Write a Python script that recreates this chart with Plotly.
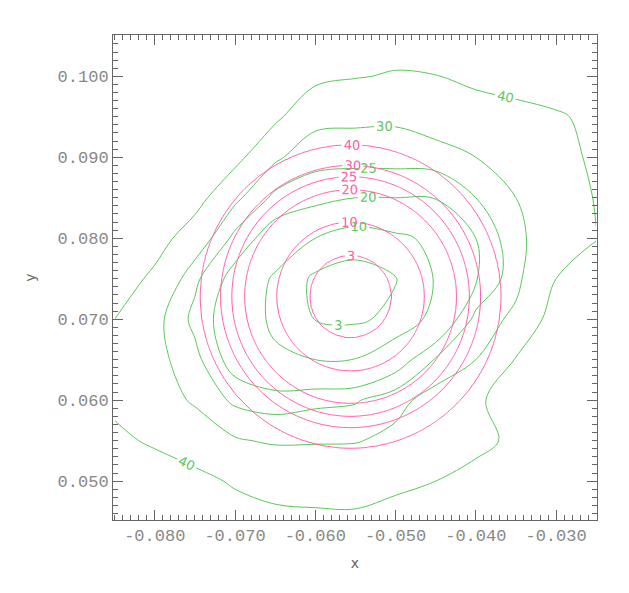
import numpy as np
import plotly.graph_objects as go

# contour levels drawn for both fields
levels = [3, 10, 20, 25, 30, 40]

# magenta field: concentric rings, radius (in x units) read for each level
ring_center_x = -0.0556
ring_center_y = 0.0728
ring_radius = [0.0051, 0.0092, 0.0132, 0.0148, 0.0162, 0.0187]

# green field: values estimated on a coarse grid (rows from top to bottom)
grid_x = [-0.085, -0.080, -0.075, -0.070, -0.065, -0.060, -0.055,
          -0.050, -0.045, -0.040, -0.035, -0.030, -0.025]
grid_y = [0.105, 0.100, 0.095, 0.090, 0.085, 0.080, 0.075,
          0.070, 0.065, 0.060, 0.055, 0.050, 0.045]
green_z = [
    [68, 64, 60, 56, 52, 47, 45, 44, 44, 45, 46, 46, 48],
    [62, 58, 55, 52, 47, 42.5, 40.5, 39.3, 39.8, 42, 43, 45, 47],
    [60, 56, 49, 46, 42, 32, 31.2, 31, 33.4, 36, 37.7, 39, 42],
    [52, 48, 44, 43, 31, 26.4, 26.9, 27, 27.4, 30, 33, 37, 41.5],
    [49, 46, 44, 31.4, 23.7, 22.5, 20, 20, 20.3, 25, 30, 34.8, 40.5],
    [48, 44.5, 34.5, 23.5, 16.7, 10, 6, 8.5, 11.6, 20, 28.5, 34.2, 39.8],
    [46, 37.7, 26.1, 17.7, 8.7, 1.7, 0.4, 2.7, 10.5, 19.5, 28.2, 40, 43],
    [40, 32, 23.6, 15.8, 8.3, 2.8, 2, 4.5, 12.6, 26.6, 31.5, 44.5, 46],
    [37, 32, 26.6, 17.1, 11.5, 10, 10.2, 16.3, 25.5, 30, 40.5, 44, 47],
    [38.5, 34, 29, 24, 22.7, 23.8, 24.5, 28.1, 32.6, 39.5, 41.5, 44, 47],
    [41.5, 39, 35.2, 30.6, 29.2, 29.4, 29.6, 31.6, 39, 38, 41.5, 43.5, 46],
    [45, 44, 42.5, 39, 36.7, 36.2, 36.1, 38.1, 40, 42.5, 44, 45.5, 48],
    [50, 48, 46.5, 44, 42.5, 42, 41.8, 43.5, 45, 46.5, 47.5, 49, 50],
]

xtick_vals = [-0.080, -0.070, -0.060, -0.050, -0.040, -0.030]
xtick_text = ['-0.080', '-0.070', '-0.060', '-0.050', '-0.040', '-0.030']
ytick_vals = [0.050, 0.060, 0.070, 0.080, 0.090, 0.100]
ytick_text = ['0.050', '0.060', '0.070', '0.080', '0.090', '0.100']

GREEN = 'rgb(90,200,90)'
MAGENTA = 'rgb(255,90,170)'

# magenta field on a fine mesh, value from distance to the ring centre
mx = np.linspace(-0.0855, -0.0245, 245)
my = np.linspace(0.0445, 0.1055, 245)
MX, MY = np.meshgrid(mx, my)
R = np.hypot(MX - ring_center_x, MY - ring_center_y)
mz = np.interp(R, [0] + ring_radius + [0.1], [0] + levels + [200])

gx = np.array(grid_x)
gy = np.array(grid_y)[::-1]
gz = np.array(green_z)[::-1]

fig = go.Figure()


def add_level(x, y, z, lev, color, smooth):
    fig.add_trace(go.Contour(
        x=x, y=y, z=z,
        contours=dict(coloring='lines', start=lev, end=lev, size=1,
                      showlabels=True,
                      labelfont=dict(size=13, color=color, family='DejaVu Sans')),
        colorscale=[[0, color], [1, color]],
        showscale=False,
        line=dict(width=1, smoothing=smooth),
        hoverinfo='skip',
    ))


for lev in levels:
    add_level(gx, gy, gz, lev, GREEN, 1.0)
for lev in levels:
    add_level(mx, my, mz, lev, MAGENTA, 1)

axis_common = dict(
    showgrid=False, zeroline=False, showline=True, linecolor='#666',
    linewidth=1, mirror='ticks', ticks='inside', ticklen=10,
    tickcolor='#666', tickwidth=1,
    tickfont=dict(size=17, color='#888', family='Liberation Mono'),
    minor=dict(ticks='inside', ticklen=5, tickcolor='#666', showgrid=False),
)

fig.update_xaxes(axis_common, range=[-0.0852, -0.0249],
                 tickvals=xtick_vals, ticktext=xtick_text,
                 minor_dtick=0.001, minor_tick0=0,
                 title=dict(text='x', font=dict(size=14, color='#666'),
                            standoff=12))
fig.update_yaxes(axis_common, range=[0.0452, 0.1051],
                 tickvals=ytick_vals, ticktext=ytick_text,
                 minor_dtick=0.001, minor_tick0=0,
                 title=dict(text='y', font=dict(size=14, color='#666'),
                            standoff=18))

# the page body adds an 8px margin, so the figure is a little smaller
fig.update_layout(
    width=621, height=585,
    margin=dict(l=105, r=32, t=27, b=73),
    plot_bgcolor='white', paper_bgcolor='white',
    showlegend=False,
    font=dict(family='DejaVu Sans'),
)

fig.write_html("out.html")
